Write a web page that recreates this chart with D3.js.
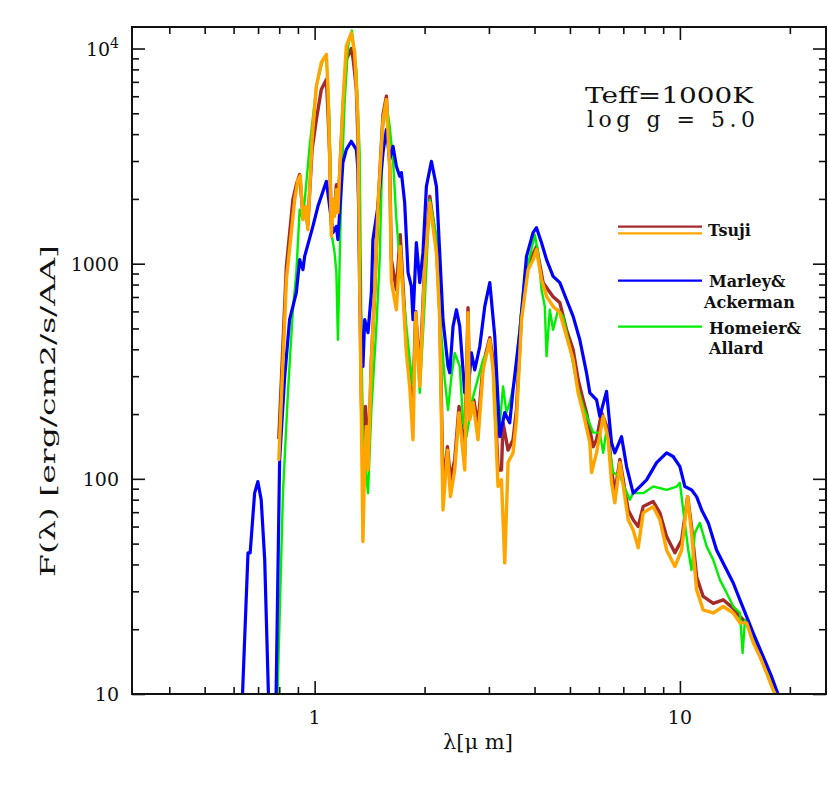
<!DOCTYPE html>
<html>
<head>
<meta charset="utf-8">
<style>
    body { margin: 0; background: #fff; }
    svg { display: block; }
    text { font-family: "DejaVu Serif", serif; fill: #111; }
    .tick-label { font-size: 19px; }
    .axis-title { font-size: 20px; }
    .legend text { font-size: 16px; font-weight: bold; }
    .params { font-size: 22px; }
    .spec { fill: none; stroke-linejoin: round; stroke-linecap: round; }
</style>
</head>
<body>
<svg width="828" height="796"></svg>
<script src="https://d3js.org/d3.v7.min.js"></script>
<script>
// Tsuji (brown)
let tsujiBrownLam = [0.798, 0.837, 0.872, 0.891, 0.910, 0.929, 0.939, 0.958, 0.984, 1.011, 1.043, 1.077, 1.087, 1.099, 1.111, 1.122, 1.134, 1.147, 1.158, 1.195, 1.221, 1.260, 1.275, 1.287, 1.301, 1.314, 1.328, 1.343, 1.356, 1.377, 1.406, 1.430, 1.460, 1.491, 1.539, 1.572, 1.605, 1.622, 1.674, 1.715, 1.783, 1.821, 1.859, 1.891, 1.940, 2.001, 2.066, 2.155, 2.200, 2.246, 2.310, 2.354, 2.419, 2.485, 2.576, 2.630, 2.659, 2.727, 2.801, 2.892, 3.017, 3.080, 3.178, 3.247, 3.280, 3.385, 3.493, 3.569, 3.684, 3.840, 4.049, 4.222, 4.497, 4.691, 4.894, 5.102, 5.265, 5.434, 5.551, 5.668, 5.788, 5.913, 6.103, 6.362, 6.500, 6.636, 6.849, 7.218, 7.449, 7.688, 7.934, 8.450, 8.816, 9.196, 9.690, 10.11, 10.50, 10.76, 11.11, 11.58, 12.34, 13.14, 14.00, 14.60, 15.23, 15.88, 16.57, 17.28, 18.41];
let tsujiBrownFlux = [155, 971, 1985, 2331, 2594, 1690, 1847, 1518, 3390, 4675, 6447, 7175, 5200, 3283, 1518, 1985, 1783, 2331, 1783, 5200, 8890, 10000, 8890, 7735, 6447, 3773, 843, 233, 123, 217, 132, 358, 733, 1847, 4930, 5999, 2887, 1044, 757, 1364, 420, 305, 233, 600, 305, 989, 2056, 1226, 611, 92, 141, 99, 123, 217, 129, 624, 209, 233, 178, 339, 453, 358, 110, 110, 182, 136, 152, 209, 579, 989, 1200, 816, 702, 659, 493, 398, 289, 233, 203, 169, 141, 152, 203, 169, 110, 86, 123, 71.7, 64.5, 60.0, 74.3, 78.4, 69.5, 53.9, 45.3, 52.0, 82.7, 60.0, 35.1, 28.4, 26.4, 27.4, 25.0, 22.9, 21.4, 17.8, 15.5, 12.9, 9.9];

// Tsuji (orange)
let tsujiOrangeLam = [0.798, 0.837, 0.882, 0.900, 0.914, 0.929, 0.945, 0.958, 0.984, 1.011, 1.043, 1.077, 1.087, 1.099, 1.111, 1.122, 1.134, 1.147, 1.158, 1.195, 1.221, 1.260, 1.287, 1.314, 1.328, 1.343, 1.356, 1.371, 1.385, 1.400, 1.430, 1.460, 1.491, 1.539, 1.572, 1.605, 1.622, 1.674, 1.715, 1.783, 1.821, 1.859, 1.891, 1.940, 2.001, 2.066, 2.155, 2.200, 2.246, 2.310, 2.354, 2.419, 2.485, 2.576, 2.630, 2.659, 2.715, 2.801, 2.892, 3.017, 3.080, 3.178, 3.247, 3.315, 3.385, 3.493, 3.569, 3.684, 3.840, 3.963, 4.049, 4.180, 4.314, 4.497, 4.691, 4.894, 5.102, 5.265, 5.434, 5.668, 5.730, 5.913, 6.165, 6.362, 6.500, 6.636, 6.849, 7.218, 7.449, 7.688, 7.934, 8.450, 8.816, 9.196, 9.690, 10.11, 10.50, 10.76, 11.11, 11.58, 12.34, 13.14, 14.00, 14.60, 15.23, 15.88, 16.57, 17.28, 18.02, 18.60];
let tsujiOrangeFlux = [123, 843, 1985, 2459, 2566, 1602, 1841, 1439, 3773, 6677, 8610, 9380, 6677, 3283, 1340, 1985, 1660, 2209, 1727, 5609, 10250, 11830, 9580, 4675, 843, 188, 51.1, 123, 175, 110, 358, 733, 1847, 4675, 5790, 2736, 827, 611, 1204, 385, 269, 152, 592, 269, 938, 1922, 1125, 549, 71.7, 136, 82.7, 110, 203, 110, 592, 188, 226, 152, 321, 443, 321, 92.1, 98.9, 40.7, 119, 132, 188, 549, 938, 1044, 1162, 843, 705, 633, 592, 459, 358, 251, 203, 147, 107, 132, 195, 152, 95.8, 77.3, 119, 64.5, 57.9, 47.8, 69.5, 74.3, 64.5, 46.7, 39.1, 46.7, 82.7, 56.1, 30.5, 24.6, 23.8, 25.5, 23.8, 21.4, 21.4, 17.3, 14.9, 12.5, 10.4, 9.4];

// Marley & Ackerman (blue)
let marleyLam = [0.634, 0.657, 0.666, 0.685, 0.699, 0.714, 0.730, 0.748, 0.765, 0.784, 0.802, 0.828, 0.854, 0.891, 0.910, 0.929, 0.939, 0.989, 1.021, 1.077, 1.099, 1.122, 1.147, 1.158, 1.195, 1.221, 1.260, 1.301, 1.314, 1.333, 1.343, 1.356, 1.371, 1.400, 1.430, 1.444, 1.491, 1.539, 1.572, 1.605, 1.639, 1.674, 1.710, 1.728, 1.764, 1.802, 1.840, 1.859, 1.899, 1.940, 1.980, 2.023, 2.088, 2.155, 2.200, 2.246, 2.318, 2.344, 2.393, 2.445, 2.496, 2.576, 2.630, 2.687, 2.744, 2.832, 2.923, 3.017, 3.113, 3.213, 3.315, 3.421, 3.493, 3.644, 3.802, 3.963, 4.049, 4.180, 4.314, 4.497, 4.691, 4.894, 5.102, 5.321, 5.551, 5.668, 5.913, 6.037, 6.298, 6.500, 6.636, 6.923, 7.145, 7.449, 7.770, 8.106, 8.635, 9.196, 9.585, 10.0, 10.32, 10.76, 11.11, 11.47, 11.96, 12.60, 13.43, 14.00, 14.60, 15.23, 15.88, 16.91, 17.84, 18.80];
let marleyFlux = [9.5, 45.3, 45.3, 85.8, 97.1, 79.9, 42.0, 9.4, 3, 9.5, 123, 299, 549, 733, 1044, 938, 1081, 1491, 1847, 2415, 1847, 1394, 1491, 1293, 2950, 3390, 3705, 3390, 2736, 680, 358, 333, 549, 478, 733, 1293, 1847, 3283, 4201, 3046, 3512, 2835, 2547, 2651, 1922, 908, 784, 549, 1252, 816, 1125, 2288, 2991, 2288, 1125, 549, 333, 311, 511, 611, 511, 251, 251, 385, 321, 412, 633, 816, 459, 157, 203, 182, 259, 478, 1081, 1394, 1470, 1252, 1044, 873, 816, 680, 569, 443, 311, 251, 233, 195, 255, 147, 132, 157, 114, 85.8, 92.1, 98.9, 119, 132, 127, 114, 92.1, 88.9, 82.7, 71.7, 62.4, 46.7, 37.7, 32.8, 27.4, 22.9, 19.2, 14.9, 12.0, 9.4];

// Homeier & Allard (green)
let homeierLam = [0.791, 0.819, 0.845, 0.872, 0.891, 0.910, 0.929, 0.969, 1.011, 1.054, 1.077, 1.099, 1.111, 1.134, 1.147, 1.158, 1.171, 1.184, 1.208, 1.234, 1.265, 1.301, 1.328, 1.345, 1.356, 1.400, 1.430, 1.476, 1.507, 1.539, 1.572, 1.605, 1.639, 1.674, 1.710, 1.783, 1.821, 1.859, 1.891, 1.940, 2.001, 2.066, 2.155, 2.224, 2.271, 2.318, 2.369, 2.419, 2.496, 2.549, 2.604, 2.715, 2.892, 3.017, 3.113, 3.198, 3.280, 3.351, 3.421, 3.531, 3.644, 3.761, 3.882, 4.006, 4.091, 4.180, 4.267, 4.314, 4.404, 4.497, 4.641, 4.790, 4.996, 5.212, 5.434, 5.788, 6.037, 6.165, 6.298, 6.566, 6.849, 7.295, 7.449, 7.934, 8.450, 9.196, 9.795, 10.0, 10.21, 10.54, 10.76, 10.99, 11.34, 11.84, 12.34, 12.87, 13.43, 14.00, 14.60, 14.85, 15.07, 15.88, 16.57, 17.28, 18.09, 18.55];
let homeierFlux = [9.5, 85.9, 251, 611, 908, 1783, 1602, 3512, 6677, 8890, 9210, 4675, 1394, 1125, 908, 443, 1044, 2288, 5609, 10250, 12120, 7985, 3283, 398, 147, 85.8, 209, 511, 1044, 4350, 5609, 4350, 3046, 1602, 1044, 511, 358, 269, 549, 251, 659, 1985, 1340, 459, 289, 209, 299, 385, 333, 188, 157, 241, 358, 412, 289, 164, 269, 203, 226, 289, 511, 873, 1081, 1364, 1125, 757, 633, 371, 611, 493, 611, 569, 412, 280, 217, 164, 164, 132, 169, 107, 102.5, 79.9, 85.8, 85.8, 92.1, 88.9, 92.1, 95.8, 71.7, 46.7, 37.7, 56.1, 62.4, 48.4, 42.0, 33.9, 29.5, 25.5, 23.8, 15.5, 22.1, 18.5, 16.0, 13.2, 10.66, 9.6];

let xMajorTicks = [1, 10];
let xMinorTicks = [0.4, 0.5, 0.6, 0.7, 0.8, 0.9, 2, 3, 4, 5, 6, 7, 8, 9, 20];
let xTickLabels = ["1", "10"];
let yMajorTicks = [10, 100, 1000, 10000];
let yMinorTicks = [20, 30, 40, 50, 60, 70, 80, 90, 200, 300, 400, 500, 600, 700, 800, 900, 2000, 3000, 4000, 5000, 6000, 7000, 8000, 9000];
let yTickLabels = ["10", "100", "1000", "10|4"];

let seriesNames = ["Tsuji", "Tsuji", "Marley&|Ackerman", "Homeier&|Allard"];

let svg = d3.select("svg");

let plotL = 132, plotR = 826, plotT = 27, plotB = 694;

let x = d3.scaleLog()
    .domain([Math.pow(10, -0.5), Math.pow(10, 1.4)])
    .range([plotL, plotR]);

let y = d3.scaleLog()
    .domain([10, Math.pow(10, 4.1)])
    .range([plotB, plotT]);

// clip
svg.append("clipPath").attr("id", "plot-clip")
    .append("rect")
    .attr("x", plotL).attr("y", plotT)
    .attr("width", plotR - plotL).attr("height", plotB - plotT);

let line = d3.line()
    .x(d => x(d[0]))
    .y(d => y(d[1]));

function pairs(lam, flux) {
    return lam.map((l, i) => [l, flux[i]]);
}

let series = [
    { name: "brown", data: pairs(tsujiBrownLam, tsujiBrownFlux), color: "#a52a2a", width: 3.4 },
    { name: "green", data: pairs(homeierLam, homeierFlux), color: "#00ee00", width: 2.4 },
    { name: "blue", data: pairs(marleyLam, marleyFlux), color: "#0000ff", width: 3.2 },
    { name: "orange", data: pairs(tsujiOrangeLam, tsujiOrangeFlux), color: "#ffa500", width: 3.4 }
];

let lines = svg.append("g").attr("clip-path", "url(#plot-clip)");

lines.selectAll("path")
    .data(series)
    .join("path")
    .attr("class", "spec")
    .attr("stroke", d => d.color)
    .attr("stroke-width", d => d.width)
    .attr("d", d => line(d.data));

// axes: ticks pointing inward on all four sides
function addAxis(axisFn, scale, values, size, transform) {
    svg.append("g")
        .attr("transform", transform)
        .call(axisFn(scale).tickValues(values).tickSize(size).tickFormat(""))
        .call(g => g.select(".domain").remove())
        .call(g => g.selectAll(".tick line").attr("stroke", "#111").attr("stroke-width", 1.6));
}

addAxis(d3.axisBottom, x, xMajorTicks, -13, `translate(0,${plotB})`);
addAxis(d3.axisBottom, x, xMinorTicks, -7, `translate(0,${plotB})`);
addAxis(d3.axisTop, x, xMajorTicks, -13, `translate(0,${plotT})`);
addAxis(d3.axisTop, x, xMinorTicks, -7, `translate(0,${plotT})`);
addAxis(d3.axisLeft, y, yMajorTicks, -13, `translate(${plotL},0)`);
addAxis(d3.axisLeft, y, yMinorTicks, -7, `translate(${plotL},0)`);
addAxis(d3.axisRight, y, yMajorTicks, -13, `translate(${plotR},0)`);
addAxis(d3.axisRight, y, yMinorTicks, -7, `translate(${plotR},0)`);

// frame
svg.append("rect")
    .attr("x", plotL).attr("y", plotT)
    .attr("width", plotR - plotL).attr("height", plotB - plotT)
    .attr("fill", "none")
    .attr("stroke", "#111")
    .attr("stroke-width", 2);

// tick labels
svg.selectAll(".xlab")
    .data(xMajorTicks)
    .join("text")
    .attr("class", "tick-label")
    .attr("x", d => x(d))
    .attr("y", 724)
    .attr("text-anchor", "middle")
    .text((d, i) => xTickLabels[i]);

yMajorTicks.forEach((v, i) => {
    let parts = yTickLabels[i].split("|");
    let t = svg.append("text")
        .attr("class", "tick-label")
        .attr("x", plotL - 13)
        .attr("y", y(v) + 7)
        .attr("text-anchor", "end");
    t.append("tspan").text(parts[0]);
    if (parts.length > 1) {
        t.append("tspan")
            .attr("dy", -8)
            .style("font-size", "14px")
            .text(parts[1]);
    }
});

// axis titles
svg.append("text")
    .attr("class", "axis-title")
    .attr("x", 443)
    .attr("y", 749)
    .attr("textLength", 70)
    .attr("lengthAdjust", "spacingAndGlyphs")
    .text("λ[μ m]");

svg.append("text")
    .attr("class", "axis-title")
    .attr("transform", "translate(55,577) rotate(-90)")
    .attr("textLength", 332)
    .attr("lengthAdjust", "spacingAndGlyphs")
    .text("F(λ)  [erg/cm2/s/AA]");

// parameters
svg.append("text")
    .attr("class", "params")
    .attr("x", 585).attr("y", 103)
    .attr("textLength", 168)
    .attr("lengthAdjust", "spacingAndGlyphs")
    .text("Teff=1000K");

svg.append("text")
    .attr("class", "params")
    .attr("x", 587).attr("y", 127)
    .attr("textLength", 168)
    .attr("lengthAdjust", "spacing")
    .text("log g = 5.0");

// legend
let legend = svg.append("g").attr("class", "legend");
let legLines = [
    { y: 226.7, color: "#a52a2a" },
    { y: 233.3, color: "#ffa500" },
    { y: 280.7, color: "#0000ff" },
    { y: 326.7, color: "#00ee00" }
];
legend.selectAll("line")
    .data(legLines)
    .join("line")
    .attr("x1", 618).attr("x2", 702)
    .attr("y1", d => d.y).attr("y2", d => d.y)
    .attr("stroke", d => d.color)
    .attr("stroke-width", 2.2);

let legText = [
    { x: 708, y: 236, t: seriesNames[0] },
    { x: 709, y: 287, t: seriesNames[2].split("|")[0] },
    { x: 704, y: 308, t: seriesNames[2].split("|")[1] },
    { x: 709, y: 334, t: seriesNames[3].split("|")[0] },
    { x: 709, y: 354, t: seriesNames[3].split("|")[1] }
];
legend.selectAll("text")
    .data(legText)
    .join("text")
    .attr("x", d => d.x)
    .attr("y", d => d.y)
    .text(d => d.t);
</script>
</body>
</html>
